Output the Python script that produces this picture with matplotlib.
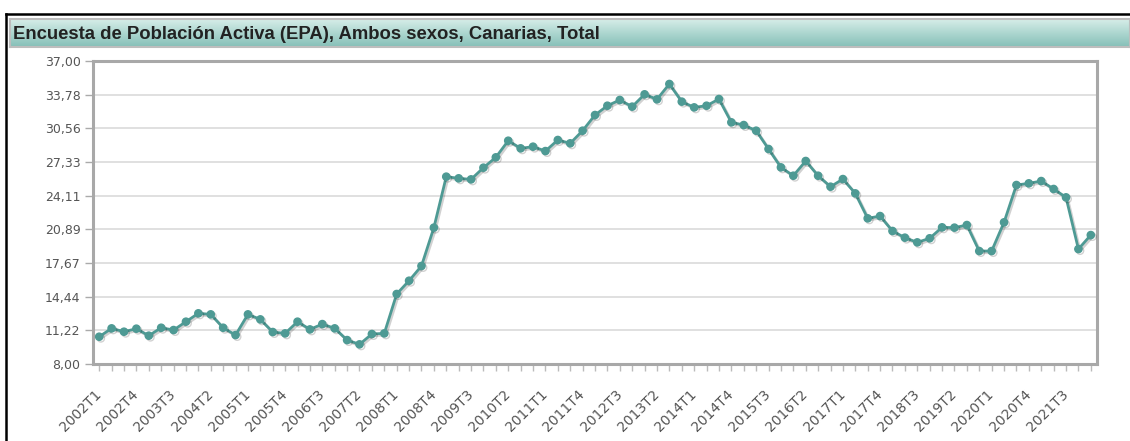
import numpy as np
import matplotlib.pyplot as plt
import matplotlib.patheffects as pe
from matplotlib.lines import Line2D

# quarters 2002T1 .. 2022T1
periods = [f"{y}T{q}" for y in range(2002, 2023) for q in range(1, 5)][:81]

values = [
    10.61, 11.41, 11.09, 11.38, 10.71, 11.47, 11.25, 12.05, 12.85, 12.75,
    11.47, 10.77, 12.75, 12.27, 11.06, 10.93, 12.05, 11.31, 11.82, 11.41,
    10.29, 9.88, 10.87, 10.93, 14.70, 15.97, 17.38, 21.05, 25.93, 25.77,
    25.67, 26.79, 27.78, 29.37, 28.64, 28.80, 28.38, 29.44, 29.12, 30.33,
    31.83, 32.72, 33.27, 32.63, 33.81, 33.33, 34.80, 33.11, 32.56, 32.72,
    33.36, 31.13, 30.87, 30.33, 28.58, 26.82, 26.02, 27.43, 26.02, 24.97,
    25.70, 24.33, 21.94, 22.16, 20.73, 20.09, 19.64, 20.03, 21.08, 21.05,
    21.30, 18.81, 18.81, 21.56, 25.13, 25.29, 25.51, 24.75, 23.95, 19.00,
    20.34,
]

title = "Encuesta de Población Activa (EPA), Ambos sexos, Canarias, Total"
y_min, y_max = 8.0, 37.0
y_ticks = np.linspace(y_min, y_max, 10)

W, H = 1130, 441
fig = plt.figure(figsize=(W / 100, H / 100), dpi=100)
fig.patch.set_facecolor("white")

# outer black frame (top and left)
fig.add_artist(Line2D([6 / W, 1], [1 - 13.5 / H, 1 - 13.5 / H], color="black", lw=1.8))
fig.add_artist(Line2D([6 / W, 6 / W], [0, 1 - 13.5 / H], color="black", lw=1.8))

# title bar with gradient
bar = fig.add_axes([10 / W, 1 - 47 / H, (W - 10) / W, 28 / H])
grad = np.linspace(0, 1, 64).reshape(-1, 1)
top_c = np.array([0.84, 0.93, 0.91])
bot_c = np.array([0.52, 0.75, 0.72])
img = top_c + (bot_c - top_c) * grad[..., None]
bar.imshow(img.reshape(64, 1, 3), aspect="auto", extent=(0, 1, 0, 1))
bar.set_xticks([])
bar.set_yticks([])
for s in bar.spines.values():
    s.set_color("#bdbdbd")
    s.set_linewidth(1.5)
bar.text(3 / W, 0.45, title, transform=bar.transAxes, ha="left", va="center",
         fontsize=13.3, fontweight="bold", color="#222222",
         family=["Liberation Sans", "DejaVu Sans"])

# main plot
ax = fig.add_axes([93 / W, 77 / H, (1097 - 93) / W, (364 - 61) / H])
x = np.arange(len(values))
ax.plot(x, values, color="#4e9a94", lw=2.0, marker="o", markersize=5.2,
        solid_joinstyle="round", zorder=3,
        path_effects=[pe.SimpleLineShadow(offset=(1.2, -1.2), shadow_color="black", alpha=0.18),
                      pe.Normal()])

ax.set_xlim(-0.5, len(values) - 0.5)
ax.set_ylim(y_min, y_max)
ax.set_yticks(y_ticks)
ax.set_yticklabels([f"{v:.2f}".replace(".", ",") for v in y_ticks])
ax.yaxis.grid(True, color="#dddddd", lw=1.3)
ax.set_axisbelow(True)

ax.set_xticks(x, minor=True)
ax.set_xticks(x[::3])
ax.set_xticklabels(periods[::3], rotation=45, ha="right", va="center",
                   rotation_mode="anchor")
ax.tick_params(axis="x", which="both", length=5, color="#bbbbbb", width=1,
               pad=15, labelsize=10, labelcolor="#555555")
ax.tick_params(axis="y", length=6, color="#aaaaaa", width=1, pad=3,
               labelsize=9, labelcolor="#555555")
for s in ax.spines.values():
    s.set_color("#a8a8a8")
    s.set_linewidth(2.2)

fig.savefig("out.png", dpi=100)
